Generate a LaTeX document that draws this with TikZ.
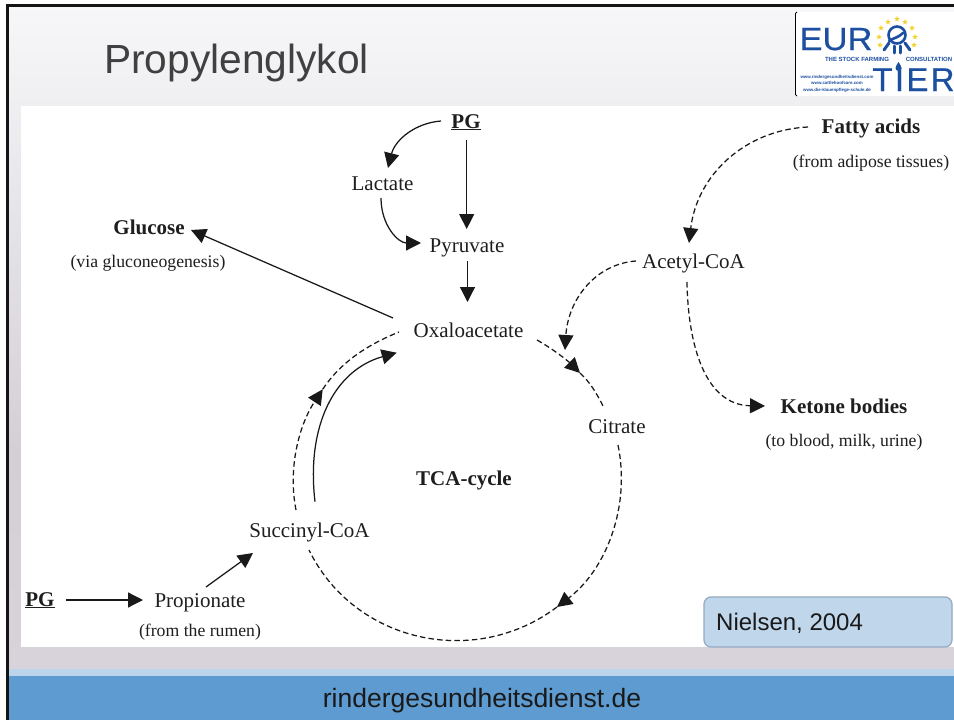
\documentclass[tikz,border=0pt]{standalone}
\usepackage{fontspec}
\setmainfont{Liberation Serif}
\newfontfamily\arialf{Liberation Sans}
\newfontfamily\logof[FakeBold=0.5]{Liberation Sans}
\usetikzlibrary{arrows.meta,calc,shapes.geometric}
\definecolor{logoblue}{HTML}{1C4FA0}
\definecolor{logostar}{HTML}{F2D22E}
\definecolor{bandblue}{HTML}{5E9BD0}
\definecolor{bandlight}{HTML}{BDD5EB}
\definecolor{bgtop}{HTML}{F7F7F9}
\definecolor{bgmid}{HTML}{D4CFD6}
\definecolor{bgbot}{HTML}{D8D3DA}
\definecolor{boxfill}{HTML}{BFD6EB}
\definecolor{boxline}{HTML}{94AAC0}
\definecolor{titlegray}{HTML}{404040}
\definecolor{inkc}{HTML}{1E1E1E}
\tikzset{
  lab/.style={anchor=base,inner sep=0pt,text=inkc,font=\fontsize{21}{25}\selectfont},
  labb/.style={lab,font=\fontsize{21}{25}\selectfont\bfseries},
  labs/.style={lab,font=\fontsize{17.7}{21}\selectfont},
  arr/.style={draw=black!90,line width=1.25pt,-{Stealth[length=15pt,width=15pt,inset=0pt]}},
  plain/.style={draw=black!90,line width=1.25pt},
  dsh/.style={dash pattern=on 5.5pt off 3.2pt},
  logot/.style={anchor=base,inner sep=0pt,text=logoblue},
  logostarstyle/.style={star,star points=5,star point ratio=2.4,fill=logostar,draw=none,minimum size=6pt,inner sep=0pt}
}
\begin{document}
\begin{tikzpicture}[x=1pt,y=-1pt]
\useasboundingbox (0,0) rectangle (954,720);
\fill[white] (0,0) rectangle (954,720);
% slide background
\shade[top color=bgtop,bottom color=bgmid] (8,5) rectangle (954,450.5);
\shade[top color=bgmid,bottom color=bgbot] (8,450) rectangle (954,669);
\fill[bandlight] (8,669) rectangle (954,676);
\fill[bandblue] (8,676) rectangle (954,720);
\fill[black!92] (6.3,4) rectangle (954,6.5);
\fill[black!92] (6.3,4) rectangle (9,720);
% picture area
\fill[white] (21,106) rectangle (954,647);
% title and footer
\node[anchor=base,inner sep=0pt,text=titlegray,font=\arialf\fontsize{40.7}{46}\selectfont] (title) at (236.5,73) {Propylenglykol};
\node[anchor=base,inner sep=0pt,text=black!90,font=\arialf\fontsize{26.5}{30}\selectfont] (footer) at (482,707) {rindergesundheitsdienst.de};
% logo
\fill[white] (795,12) rectangle (954,96);
\draw[black,line width=.8pt] (797,12) -- (795.4,13.5) -- (795.4,94.5) -- (797,96);
\node[logot,font=\logof\fontsize{32}{36}\selectfont,xscale=1.08] (logoeur) at (836,50) {EUR};
\node[logot,font=\logof\fontsize{33}{36}\selectfont\addfontfeature{LetterSpace=7}] (logotier) at (913.5,91) {TIER};
\node[logot,font=\arialf\bfseries\fontsize{6}{7}\selectfont] (logofarm) at (857,61) {THE STOCK FARMING};
\node[logot,font=\arialf\bfseries\fontsize{6}{7}\selectfont] (logocons) at (929,61) {CONSULTATION};
\node[logot,font=\arialf\bfseries\fontsize{4.4}{5}\selectfont] (logourla) at (837,78) {www.rindergesundheitsdienst.com};
\node[logot,font=\arialf\bfseries\fontsize{4.4}{5}\selectfont] (logourlb) at (837,84) {www.cattlehoofcare.com};
\node[logot,font=\arialf\bfseries\fontsize{4.4}{5}\selectfont] (logourlc) at (837,91) {www.die-klauenpflege-schule.de};
\foreach \n/\x/\y in {a/897/19,b/888/22,c/905/22,d/881/28,e/912/28,f/879/37,g/915/37,h/880/45,i/914/45}
  \node[logostarstyle] (star\n) at (\x,\y) {};
\draw[logoblue,line width=2.6pt] (897,35) circle[radius=8.5];
\draw[logoblue,line width=2.6pt,line cap=round] (889,41) .. controls (893,38) and (898,38) .. (903,33);
\draw[logoblue,line width=3pt,line cap=round] (889,43) -- (884,50);
\draw[logoblue,line width=3pt,line cap=round] (905,43) -- (910,50);
\draw[logoblue,line width=3pt,line cap=round] (894,46) -- (894,53);
\draw[logoblue,line width=3pt,line cap=round] (900,46) -- (900,53);
\fill[logoblue] (898.5,62) .. controls (902,67) and (903,70) .. (898.5,71) .. controls (894,70) and (895,67) .. (898.5,62);
% labels
\node[labb] (pgtop) at (466,128) {\underline{PG}};
\node[lab] (lactate) at (382.5,190) {Lactate};
\node[lab] (pyruvate) at (467,252) {Pyruvate};
\node[lab] (oxalo) at (468.5,337) {Oxaloacetate};
\node[labb] (glucose) at (149,234) {Glucose};
\node[labs] (gluconote) at (148,267) {(via gluconeogenesis)};
\node[labb] (fatty) at (871,133) {Fatty acids};
\node[labs] (adipose) at (871,167) {(from adipose tissues)};
\node[lab] (acetyl) at (693.5,268) {Acetyl-CoA};
\node[lab] (citrate) at (617,433) {Citrate};
\node[labb] (ketone) at (844,413) {Ketone bodies};
\node[labs] (blood) at (844,446) {(to blood, milk, urine)};
\node[labb] (tca) at (464,485) {TCA-cycle};
\node[lab] (succinyl) at (309.5,537) {Succinyl-CoA};
\node[lab] (propionate) at (200,607) {Propionate};
\node[labs] (rumen) at (200,636) {(from the rumen)};
\node[labb] (pgleft) at (40,606) {\underline{PG}};
\coordinate (arrowa) at (322.7,389.3);
\coordinate (arrowb) at (580,373);
\coordinate (arrowc) at (557,607);
% box
\node[draw=boxline,fill=boxfill,line width=1.2pt,rounded corners=7pt,minimum width=248pt,minimum height=50pt,inner sep=0pt] (nielsen) at (828,622) {};
\node[anchor=base west,inner sep=0pt,text=black!90,font=\arialf\fontsize{24}{28}\selectfont] (nielsent) at (716,630) {Nielsen, 2004};
% solid connectors
\draw[arr] ($(pgtop.base)+(-25,-7)$) .. controls (415,123) and (395,140) .. ($(lactate.base)+(5.5,-22)$);
\draw[arr] ($(pgtop.base)+(0.7,12)$) -- ($(pyruvate.base)+(-0.3,-23)$);
\draw[arr] ($(lactate.base)+(-1.5,8)$) .. controls (381,225) and (398,243) .. ($(pyruvate.base)+(-46,-9)$);
\draw[arr] ($(pyruvate.base)+(0.5,9)$) -- ($(oxalo.base)+(-1,-35)$);
\draw[arr] ($(oxalo.base)+(-75.5,-19)$) -- ($(glucose.base)+(42,-4)$);
\draw[arr] ($(succinyl.base)+(5.5,-35.3)$) .. controls (306,425) and (335,370) .. ($(oxalo.base)+(-71.8,15.7)$);
\draw[arr] ($(pgleft.base)+(26,-6)$) -- ($(propionate.base)+(-57,-7)$);
\draw[arr] ($(propionate.base)+(6,-20)$) -- ($(succinyl.base)+(-56.5,16)$);
% dashed connectors
\draw[arr,dsh] ($(fatty.base)+(-63,-6)$) .. controls (745,130) and (697,175) .. ($(acetyl.base)+(-4.5,-25)$);
\draw[arr,dsh] ($(acetyl.base)+(-57.5,-7)$) .. controls (595,264) and (568,300) .. ($(oxalo.base)+(96.5,13)$);
\draw[arr,dsh] ($(acetyl.base)+(-6.5,14)$) .. controls (688,345) and (705,405) .. ($(ketone.base)+(-79,-7)$);
% TCA cycle
\draw[arr,dsh] ($(succinyl.base)+(-13.5,-27)$) .. controls (287.7,467.9) and (299.1,425.1) .. (arrowa);
\draw[plain,dsh] (arrowa) .. controls (340.9,361.7) and (368.4,344.4) .. ($(oxalo.base)+(-69.5,-5)$);
\draw[arr,dsh] ($(oxalo.base)+(68.5,3)$) .. controls (553,349) and (568,361) .. (arrowb);
\draw[plain,dsh] (arrowb) .. controls (590,382) and (597,394) .. ($(citrate.base)+(-14,-27)$);
\draw[arr,dsh] ($(citrate.base)+(1,12)$) .. controls (630.6,506.2) and (606.6,569) .. (arrowc);
\draw[plain,dsh] (arrowc) .. controls (474.6,669) and (354.2,642.5) .. ($(succinyl.base)+(-0.5,13)$);
\end{tikzpicture}
\end{document}
